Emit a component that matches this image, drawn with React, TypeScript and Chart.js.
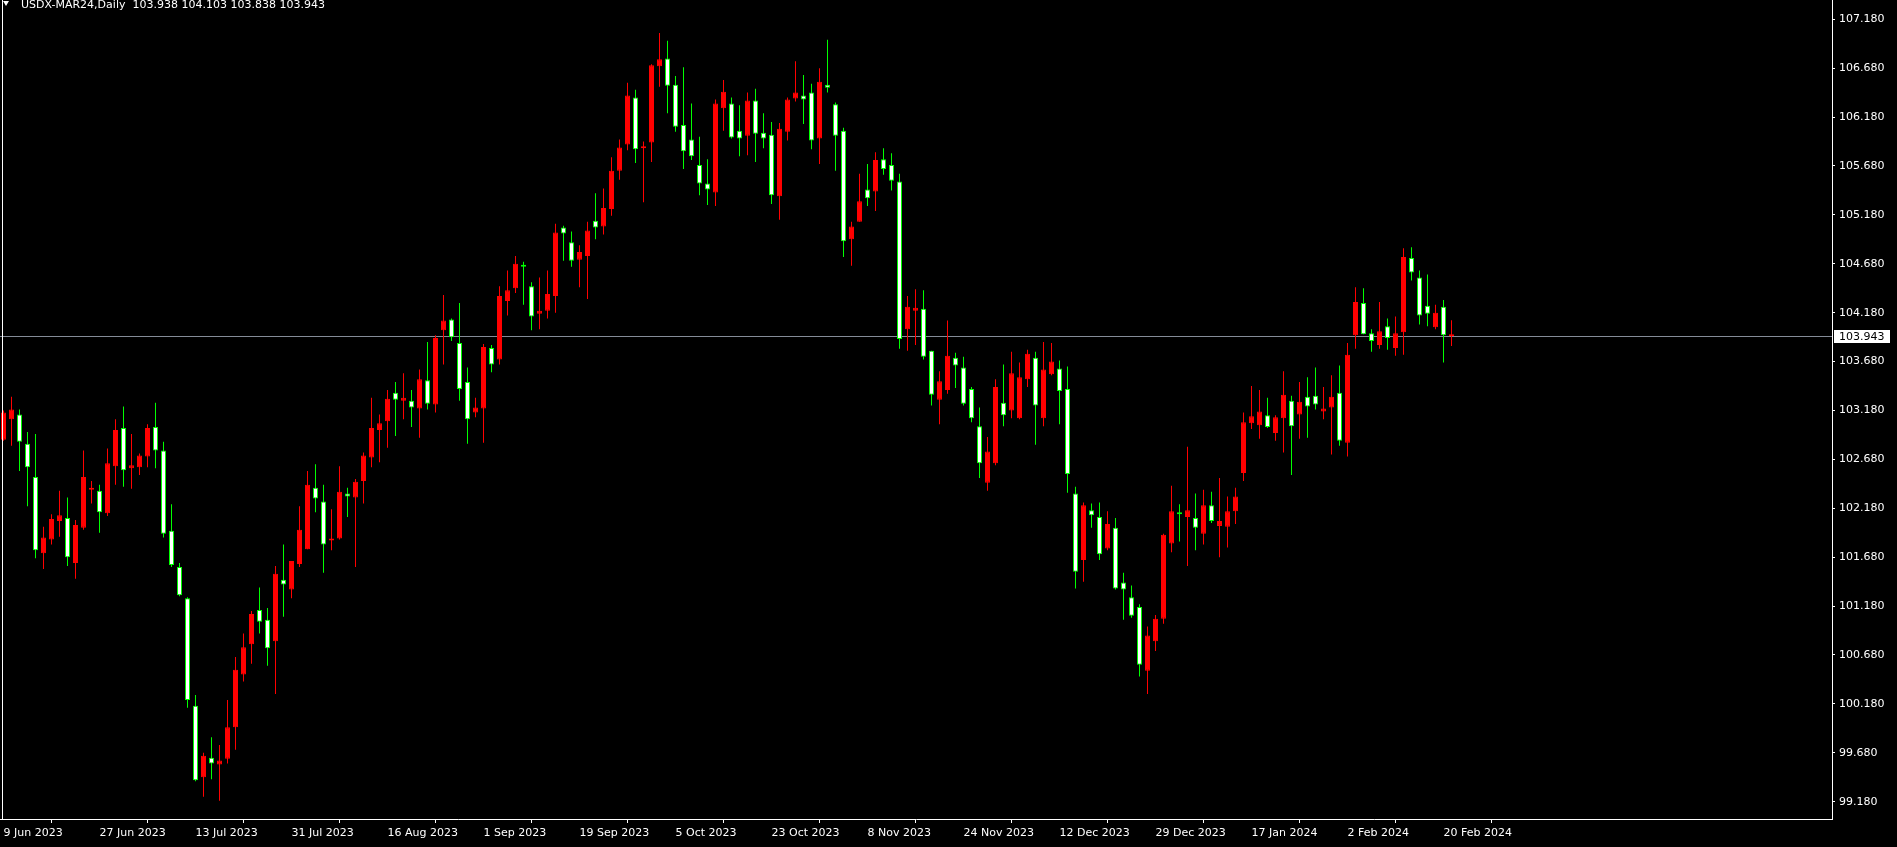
import React, { useEffect, useRef } from "react";
import { Chart, registerables } from "chart.js";

Chart.register(...registerables);

const SYMBOL = "USDX-MAR24,Daily";
const START_DATE = "2023-06-09";
const SKIPPED_DAYS = ["2023-12-25", "2024-01-01"];
const DATE_LABEL_STEP = 12;
const MONTHS = ["Jan", "Feb", "Mar", "Apr", "May", "Jun", "Jul", "Aug", "Sep", "Oct", "Nov", "Dec"];

const priceTicks = [
  99.18, 99.68, 100.18, 100.68, 101.18, 101.68, 102.18, 102.68, 103.18,
  103.68, 104.18, 104.68, 105.18, 105.68, 106.18, 106.68, 107.18,
];
const Y_MIN = 99.003;
const Y_MAX = 107.377;

const opens = [
  102.88, 103.09, 103.14, 102.84, 102.5, 101.72, 101.86, 102.05, 102.08, 101.62,
  101.98, 102.37, 102.36, 102.13, 102.61, 103.0, 102.59, 102.6, 102.71, 103.01,
  102.77, 101.95, 101.58, 101.26, 100.16, 99.43, 99.63, 99.56, 99.62, 99.94,
  100.48, 100.79, 101.14, 101.04, 100.82, 101.45, 101.35, 101.61, 101.76, 102.39,
  102.25, 101.85, 101.87, 102.33, 102.29, 102.46, 102.7, 102.98, 103.07, 103.36,
  103.28, 103.28, 103.2, 103.49, 103.24, 104.0, 104.11, 103.87, 103.47, 103.16,
  103.2, 103.82, 103.7, 104.3, 104.43, 104.66, 104.45, 104.17, 104.2, 104.35,
  105.05, 104.9, 104.72, 104.76, 105.12, 105.06, 105.24, 105.63, 105.9, 106.38,
  105.86, 105.92, 106.7, 106.78, 106.51, 106.1, 105.95, 105.69, 105.5, 105.41,
  106.27, 106.32, 106.04, 105.99, 106.35, 106.02, 106.0, 105.37, 106.03, 106.37,
  106.4, 106.43, 105.96, 106.51, 106.31, 106.04, 104.93, 105.11, 105.44, 105.42,
  105.75, 105.69, 105.52, 104.01, 104.2, 104.22, 103.79, 103.29, 103.39, 103.72,
  103.62, 103.4, 103.02, 102.44, 102.64, 103.26, 103.18, 103.1, 103.5, 103.72,
  103.1, 103.55, 103.61, 103.4, 102.33, 101.65, 102.16, 102.09, 101.77, 101.98,
  101.42, 101.27, 101.17, 100.52, 100.82, 101.05, 101.82, 102.14, 102.09, 102.08,
  101.92, 102.21, 102.0, 101.99, 102.15, 102.54, 103.05, 103.03, 103.13, 102.95,
  103.1, 103.28, 103.14, 103.32, 103.33, 103.17, 103.21, 103.36, 102.85, 103.95,
  104.28, 103.97, 103.85, 104.04, 103.82, 103.98, 104.74, 104.54, 104.25, 104.03,
  104.24, 103.938,
];

const highs = [
  103.18, 103.32, 103.19, 102.96, 102.94, 101.99, 102.12, 102.36, 102.29, 102.06,
  102.77, 102.46, 102.42, 102.79, 103.09, 103.22, 102.94, 102.74, 103.04, 103.26,
  102.86, 102.22, 101.62, 101.27, 100.27, 99.68, 99.84, 99.76, 100.22, 100.66,
  100.9, 101.13, 101.37, 101.16, 101.59, 101.81, 101.64, 102.2, 102.56, 102.63,
  102.42, 102.17, 102.61, 102.39, 102.48, 102.75, 103.31, 103.14, 103.39, 103.47,
  103.56, 103.39, 103.6, 103.88, 103.95, 104.36, 104.12, 104.28, 103.62, 103.31,
  103.86, 103.85, 104.45, 104.61, 104.76, 104.7, 104.49, 104.54, 104.61, 105.09,
  105.07, 105.01, 104.87, 105.11, 105.4, 105.45, 105.77, 105.95, 106.53, 106.46,
  105.93, 106.72, 107.04, 106.96, 106.6, 106.69, 106.32, 105.98, 105.75, 106.36,
  106.56, 106.38, 106.3, 106.43, 106.47, 106.22, 106.13, 106.12, 106.38, 106.75,
  106.61, 106.52, 106.68, 106.97, 106.33, 106.07, 105.11, 105.6, 105.7, 105.82,
  105.86, 105.81, 105.6, 104.35, 104.42, 104.41, 103.79, 103.58, 104.1, 103.77,
  103.73, 103.42, 103.21, 102.91, 103.5, 103.65, 103.78, 103.67, 103.8, 103.78,
  103.88, 103.87, 103.69, 103.63, 102.4, 102.24, 102.23, 102.24, 102.15, 102.08,
  101.52, 101.39, 101.2, 100.97, 101.09, 101.92, 102.41, 102.22, 102.81, 102.33,
  102.37, 102.35, 102.49, 102.3, 102.39, 103.16, 103.43, 103.39, 103.31, 103.13,
  103.58, 103.33, 103.47, 103.52, 103.62, 103.42, 103.54, 103.64, 103.87, 104.44,
  104.43, 104.01, 104.29, 104.12, 104.14, 104.84, 104.85, 104.61, 104.57, 104.26,
  104.31, 104.103,
];

const lows = [
  102.87, 102.82, 102.56, 102.2, 101.67, 101.56, 101.81, 101.89, 101.59, 101.46,
  101.96, 102.23, 101.93, 102.1, 102.42, 102.4, 102.38, 102.52, 102.6, 102.59,
  101.88, 101.58, 101.28, 100.14, 99.39, 99.23, 99.41, 99.19, 99.57, 99.71,
  100.41, 100.59, 100.9, 100.57, 100.28, 101.07, 101.26, 101.58, 101.76, 102.14,
  101.52, 101.75, 101.86, 102.09, 101.58, 102.23, 102.6, 102.65, 102.8, 102.92,
  103.09, 103.01, 102.9, 103.19, 103.16, 103.65, 103.89, 103.28, 102.84, 103.11,
  102.85, 103.57, 103.65, 104.15, 104.38, 104.26, 104.0, 104.01, 104.12, 104.18,
  104.71, 104.65, 104.44, 104.32, 104.93, 104.98, 105.17, 105.54, 105.84, 105.71,
  105.31, 105.72, 106.49, 106.22, 106.03, 105.65, 105.74, 105.38, 105.28, 105.27,
  106.04, 105.96, 105.78, 105.79, 105.72, 105.86, 105.29, 105.13, 105.94, 106.34,
  106.11, 105.85, 105.7, 106.43, 105.63, 104.75, 104.66, 105.11, 105.27, 105.22,
  105.59, 105.43, 103.81, 103.79, 103.85, 103.7, 103.23, 103.04, 103.35, 103.41,
  103.23, 103.06, 102.49, 102.36, 102.62, 103.02, 103.1, 103.09, 103.42, 102.83,
  103.02, 103.54, 103.04, 102.34, 101.36, 101.43, 101.98, 101.65, 101.75, 101.35,
  101.04, 101.06, 100.46, 100.28, 100.72, 101.0, 101.73, 101.84, 101.59, 101.75,
  101.81, 102.03, 101.68, 101.78, 102.02, 102.46, 102.99, 102.89, 103.0, 102.87,
  102.75, 102.52, 102.89, 102.9, 103.19, 103.09, 102.73, 102.82, 102.71, 103.81,
  103.96, 103.78, 103.81, 103.8, 103.74, 103.75, 104.51, 104.06, 104.04, 104.01,
  103.67, 103.838,
];

const closes = [
  103.16, 103.19, 102.86, 102.6, 101.75, 101.88, 102.07, 102.11, 101.68, 102.01,
  102.5, 102.38, 102.14, 102.64, 102.98, 102.57, 102.62, 102.72, 103.0, 102.77,
  101.92, 101.6, 101.29, 100.22, 99.4, 99.65, 99.57, 99.6, 99.94, 100.53,
  100.76, 101.1, 101.02, 100.75, 101.51, 101.4, 101.64, 101.96, 102.42, 102.28,
  101.81, 101.86, 102.35, 102.3, 102.45, 102.72, 103.0, 103.05, 103.3, 103.29,
  103.31, 103.21, 103.5, 103.25, 103.92, 104.1, 103.93, 103.4, 103.09, 103.21,
  103.83, 103.65, 104.35, 104.41, 104.68, 104.65, 104.14, 104.2, 104.37, 105.0,
  104.99, 104.71, 104.8, 105.02, 105.05, 105.25, 105.63, 105.87, 106.4, 105.85,
  105.87, 106.71, 106.77, 106.5, 106.08, 105.83, 105.78, 105.5, 105.44, 106.32,
  106.44, 105.97, 105.96, 106.35, 106.01, 105.96, 105.38, 106.06, 106.36, 106.43,
  106.36, 105.94, 106.54, 106.48, 105.99, 104.91, 105.06, 105.32, 105.35, 105.74,
  105.65, 105.53, 103.91, 104.24, 104.23, 103.73, 103.34, 103.48, 103.74, 103.64,
  103.25, 103.1, 102.64, 102.76, 103.42, 103.13, 103.56, 103.52, 103.76, 103.23,
  103.6, 103.68, 103.38, 102.53, 101.53, 102.21, 102.11, 101.71, 102.02, 101.36,
  101.35, 101.08, 100.58, 100.88, 101.05, 101.91, 102.15, 102.12, 102.16, 101.98,
  102.21, 102.05, 102.05, 102.15, 102.3, 103.06, 103.12, 103.17, 103.01, 103.11,
  103.34, 103.02, 103.27, 103.22, 103.24, 103.2, 103.32, 102.87, 103.75, 104.29,
  103.96, 103.89, 103.99, 103.92, 103.97, 104.75, 104.59, 104.15, 104.17, 104.18,
  103.95, 103.943,
];

const UP_BODY = "#ff0000";
const UP_WICK = "#ff0000";
const DOWN_BODY = "#ffffff";
const DOWN_EDGE = "#00ff00";
const FONT = '"DejaVu Sans", sans-serif';

function tradingDays(start: string, count: number, skip: string[]): string[] {
  const out: string[] = [];
  const d = new Date(start + "T00:00:00Z");
  while (out.length < count) {
    const dow = d.getUTCDay();
    const iso = d.toISOString().slice(0, 10);
    if (dow !== 0 && dow !== 6 && !skip.includes(iso)) {
      out.push(`${d.getUTCDate()} ${MONTHS[d.getUTCMonth()]} ${d.getUTCFullYear()}`);
    }
    d.setUTCDate(d.getUTCDate() + 1);
  }
  return out;
}

export default function App() {
  const ref = useRef<HTMLCanvasElement | null>(null);

  useEffect(() => {
    document.body.style.margin = "0";
    document.body.style.background = "#000";
    const canvas = ref.current;
    if (!canvas) return;

    const n = opens.length;
    const last = n - 1;
    const dates = tradingDays(START_DATE, n, SKIPPED_DAYS);
    const idx = opens.map((_, i) => i);
    const isUp = idx.map((i) => closes[i] >= opens[i]);
    const dateTicks = idx.filter((i) => i % DATE_LABEL_STEP === 0);

    const overlay = {
      id: "mt4overlay",
      beforeDatasetsDraw(chart: any) {
        const { ctx, chartArea, scales } = chart;
        const y = Math.round(scales.y.getPixelForValue(closes[last])) + 0.5;
        ctx.save();
        ctx.strokeStyle = "#848b97";
        ctx.lineWidth = 1;
        ctx.beginPath();
        ctx.moveTo(chartArea.left, y);
        ctx.lineTo(chartArea.right, y);
        ctx.stroke();
        ctx.restore();
      },
      afterDraw(chart: any) {
        const { ctx, chartArea, scales } = chart;
        ctx.save();
        // left frame line
        ctx.fillStyle = "#ffffff";
        ctx.fillRect(2, 0, 1, chartArea.bottom);
        // current price label
        const yc = Math.round(scales.y.getPixelForValue(closes[last]));
        ctx.fillStyle = "#ffffff";
        ctx.fillRect(chartArea.right + 2, yc - 6, 56, 13);
        ctx.fillStyle = "#000000";
        ctx.font = `11px ${FONT}`;
        ctx.textBaseline = "middle";
        ctx.textAlign = "left";
        ctx.fillText(closes[last].toFixed(3), chartArea.right + 7, yc + 1);
        // header
        ctx.fillStyle = "#ffffff";
        ctx.beginPath();
        ctx.moveTo(3, 1);
        ctx.lineTo(9, 1);
        ctx.lineTo(6, 6);
        ctx.closePath();
        ctx.fill();
        ctx.textBaseline = "alphabetic";
        const header = `${SYMBOL}  ${opens[last].toFixed(3)} ${highs[last].toFixed(3)} ${lows[last].toFixed(3)} ${closes[last].toFixed(3)}`;
        ctx.fillText(header, 21, 8);
        ctx.restore();
      },
    };

    const chart = new Chart(canvas, {
      type: "bar",
      data: {
        datasets: [
          {
            label: "wick",
            data: idx.map((i) => ({ x: i, y: [lows[i], highs[i]] })) as any,
            backgroundColor: idx.map((i) => (isUp[i] ? UP_WICK : DOWN_EDGE)),
            borderWidth: 0,
            maxBarThickness: 1,
            barPercentage: 1,
            grouped: false,
            inflateAmount: 0,
            minBarLength: 1,
            order: 2,
          } as any,
          {
            label: "body",
            data: idx.map((i) => ({ x: i, y: [opens[i], closes[i]] })) as any,
            backgroundColor: idx.map((i) => (isUp[i] ? UP_BODY : DOWN_BODY)),
            borderColor: idx.map((i) => (isUp[i] ? UP_BODY : DOWN_EDGE)),
            borderWidth: 1,
            borderSkipped: false,
            maxBarThickness: 5,
            barPercentage: 1,
            grouped: false,
            inflateAmount: 0,
            minBarLength: 2,
            order: 1,
          } as any,
        ],
      },
      options: {
        responsive: false,
        devicePixelRatio: 1,
        animation: false,
        events: [],
        layout: { padding: 0, autoPadding: false } as any,
        plugins: { legend: { display: false }, tooltip: { enabled: false } },
        scales: {
          x: {
            type: "linear",
            min: -0.4375,
            max: 228.5625,
            offset: false,
            afterBuildTicks: (s: any) => {
              s.ticks = dateTicks.map((v) => ({ value: v }));
            },
            afterFit: (s: any) => {
              s.height = 28;
              s.paddingLeft = 0;
              s.paddingRight = 0;
            },
            grid: {
              display: true,
              drawOnChartArea: false,
              drawTicks: true,
              tickLength: 4,
              color: "#ffffff",
            },
            border: { display: true, color: "#ffffff", width: 1 },
            ticks: {
              autoSkip: false,
              maxRotation: 0,
              minRotation: 0,
              align: "start",
              padding: 4,
              color: "#ffffff",
              font: { family: FONT, size: 11 },
              callback: (v: any) => dates[Math.round(Number(v))] ?? "",
            },
          },
          y: {
            type: "linear",
            position: "right",
            min: Y_MIN,
            max: Y_MAX,
            afterBuildTicks: (s: any) => {
              s.ticks = priceTicks.map((v) => ({ value: v }));
            },
            afterFit: (s: any) => {
              s.width = 65;
              s.paddingTop = 0;
              s.paddingBottom = 0;
            },
            grid: {
              display: true,
              drawOnChartArea: false,
              drawTicks: true,
              tickLength: 3,
              color: "#ffffff",
            },
            border: { display: true, color: "#ffffff", width: 1 },
            ticks: {
              padding: 4,
              color: "#ffffff",
              font: { family: FONT, size: 11 },
              callback: (v: any) => Number(v).toFixed(3),
            },
          },
        },
      } as any,
      plugins: [overlay as any],
    });

    return () => chart.destroy();
  }, []);

  return (
    <div style={{ position: "fixed", left: 0, top: 0, width: 1897, height: 847, background: "#000" }}>
      <canvas ref={ref} width={1897} height={847} style={{ display: "block", width: 1897, height: 847 }} />
    </div>
  );
}
